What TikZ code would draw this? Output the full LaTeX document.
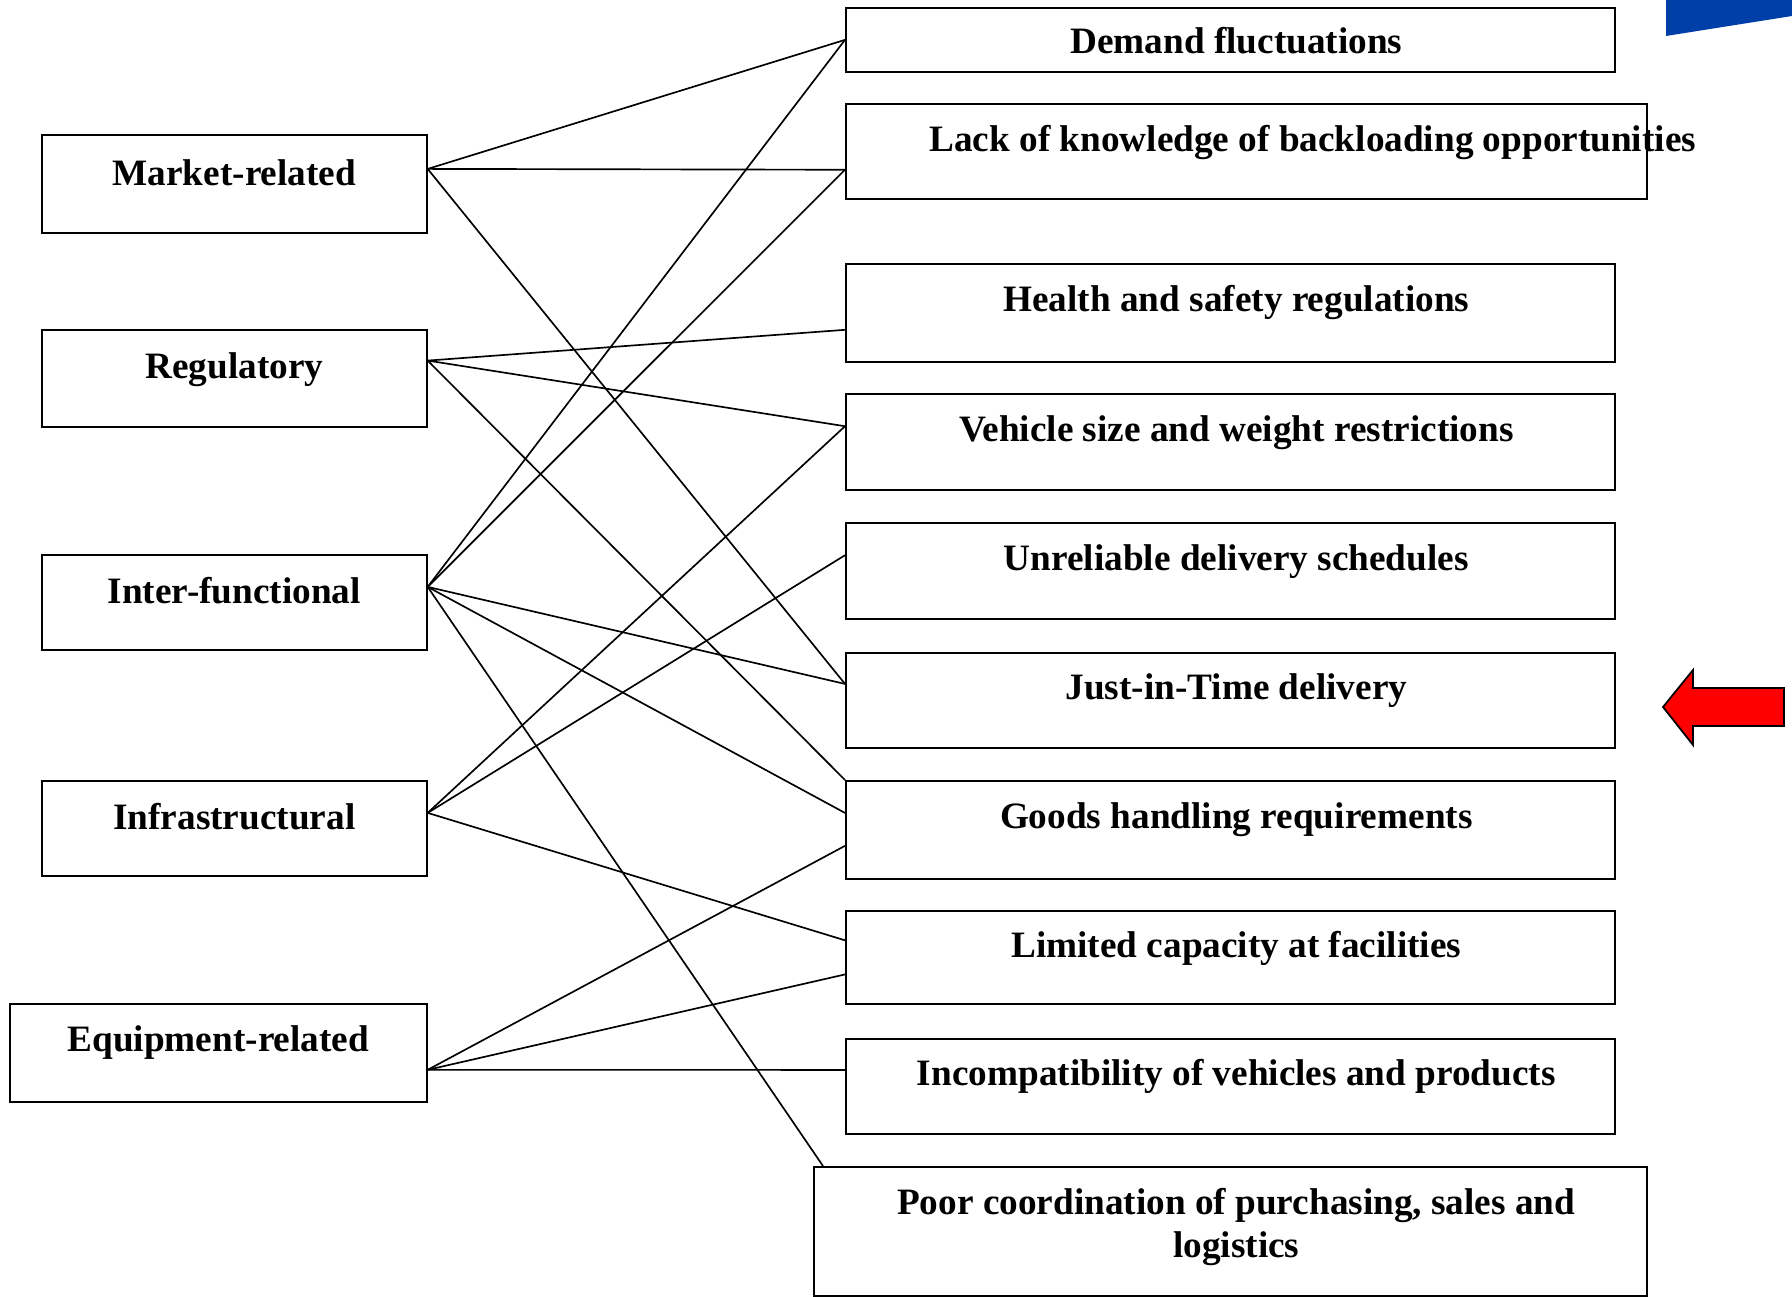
\documentclass[tikz,border=0pt]{standalone}
\usepackage{fontspec}
\setmainfont{Liberation Serif}
\usetikzlibrary{positioning,calc}
\definecolor{cornerblue}{RGB}{0,62,168}
\definecolor{arrowred}{RGB}{255,0,0}
\begin{document}
\begin{tikzpicture}[x=0.02cm,y=-0.02cm,
    box/.style={draw,line width=1pt,anchor=north west,inner sep=0pt},
    lbl/.style={font=\fontsize{21.2}{24.5}\selectfont\bfseries,inner sep=0pt,align=center},
    rlbl/.style={lbl,xshift=0.12cm},
    link/.style={line width=0.95pt}]
  \useasboundingbox (0,0) rectangle (1792,1297);

  % categories (left column)
  \node[box,minimum width=7.7cm,minimum height=1.96cm] (mkt) at (41,134) {};
  \node[box,minimum width=7.7cm,minimum height=1.94cm] (reg) at (41,329) {};
  \node[box,minimum width=7.7cm,minimum height=1.9cm] (inter) at (41,554) {};
  \node[box,minimum width=7.7cm,minimum height=1.9cm] (infra) at (41,780) {};
  \node[box,minimum width=8.34cm,minimum height=1.96cm] (equip) at (9,1003) {};
  \node[lbl,below=0.5cm of mkt.north] (mkt-t) {Market-related};
  \node[lbl,below=0.46cm of reg.north] (reg-t) {Regulatory};
  \node[lbl,below=0.46cm of inter.north] (inter-t) {Inter-functional};
  \node[lbl,below=0.46cm of infra.north] (infra-t) {Infrastructural};
  \node[lbl,below=0.44cm of equip.north] (equip-t) {Equipment-related};

  % barriers (right column)
  \node[box,minimum width=15.38cm,minimum height=1.28cm] (dem) at (845,7) {};
  \node[box,minimum width=16.02cm,minimum height=1.9cm] (lack) at (845,103) {};
  \node[box,minimum width=15.38cm,minimum height=1.96cm] (health) at (845,263) {};
  \node[box,minimum width=15.38cm,minimum height=1.92cm] (veh) at (845,393) {};
  \node[box,minimum width=15.38cm,minimum height=1.92cm] (unrel) at (845,522) {};
  \node[box,minimum width=15.38cm,minimum height=1.9cm] (jit) at (845,652) {};
  \node[box,minimum width=15.38cm,minimum height=1.96cm] (goods) at (845,780) {};
  \node[box,minimum width=15.38cm,minimum height=1.86cm] (lim) at (845,910) {};
  \node[box,minimum width=15.38cm,minimum height=1.9cm] (incomp) at (845,1038) {};
  \node[box,minimum width=16.66cm,minimum height=2.58cm] (poor) at (813,1166) {};
  \node[rlbl,below=0.4cm of dem.north] (dem-t) {Demand fluctuations};
  \node[lbl,anchor=north west] (lack-t) at ($(lack.north west)+(84,22)$) {Lack of knowledge of backloading opportunities};
  \node[rlbl,below=0.44cm of health.north] (health-t) {Health and safety regulations};
  \node[rlbl,below=0.44cm of veh.north] (veh-t) {Vehicle size and weight restrictions};
  \node[rlbl,below=0.44cm of unrel.north] (unrel-t) {Unreliable delivery schedules};
  \node[rlbl,below=0.42cm of jit.north] (jit-t) {Just-in-Time delivery};
  \node[rlbl,below=0.44cm of goods.north] (goods-t) {Goods handling requirements};
  \node[rlbl,below=0.42cm of lim.north] (lim-t) {Limited capacity at facilities};
  \node[rlbl,below=0.42cm of incomp.north] (incomp-t) {Incompatibility of vehicles and products};
  \node[rlbl,below=0.44cm of poor.north] (poor-t) {Poor coordination of purchasing, sales and\\logistics};

  % market-related
  \draw[link] ($(mkt.north east)!.35!(mkt.south east)$) -- (dem.west);
  \draw[link] ($(mkt.north east)!.35!(mkt.south east)$) -- ($(lack.north west)!.69!(lack.south west)$);
  \draw[link] ($(mkt.north east)!.35!(mkt.south east)$) -- ($(jit.north west)!.33!(jit.south west)$);
  % regulatory
  \draw[link] ($(reg.north east)!.32!(reg.south east)$) -- ($(health.north west)!.67!(health.south west)$);
  \draw[link] ($(reg.north east)!.32!(reg.south east)$) -- ($(veh.north west)!.34!(veh.south west)$);
  \draw[link] ($(reg.north east)!.32!(reg.south east)$) -- (goods.north west);
  % inter-functional
  \draw[link] ($(inter.north east)!.34!(inter.south east)$) -- (dem.west);
  \draw[link] ($(inter.north east)!.34!(inter.south east)$) -- ($(lack.north west)!.69!(lack.south west)$);
  \draw[link] ($(inter.north east)!.34!(inter.south east)$) -- ($(jit.north west)!.33!(jit.south west)$);
  \draw[link] ($(inter.north east)!.34!(inter.south east)$) -- ($(goods.north west)!.33!(goods.south west)$);
  \draw[link] ($(inter.north east)!.34!(inter.south east)$) -- ($(poor.north west)+(10,0)$);
  % infrastructural
  \draw[link] ($(infra.north east)!.34!(infra.south east)$) -- ($(veh.north west)!.34!(veh.south west)$);
  \draw[link] ($(infra.north east)!.34!(infra.south east)$) -- ($(unrel.north west)!.34!(unrel.south west)$);
  \draw[link] ($(infra.north east)!.34!(infra.south east)$) -- ($(lim.north west)!.32!(lim.south west)$);
  % equipment-related
  \draw[link] ($(equip.north east)!.67!(equip.south east)$) -- ($(goods.north west)!.66!(goods.south west)$);
  \draw[link] ($(equip.north east)!.67!(equip.south east)$) -- ($(lim.north west)!.68!(lim.south west)$);
  \draw[link] ($(equip.north east)!.67!(equip.south east)$) -- ($(incomp.north west)!.33!(incomp.south west)$);

  % corner mark and pointer
  \fill[cornerblue] (1666,0) -- (1792,0) -- (1792,16) -- (1666,36) -- cycle;
  \draw[fill=arrowred,line width=1pt] (1663,707) -- (1693,670) -- (1693,688) -- (1784,688)
    -- (1784,726) -- (1693,726) -- (1693,745) -- cycle;
\end{tikzpicture}
\end{document}
